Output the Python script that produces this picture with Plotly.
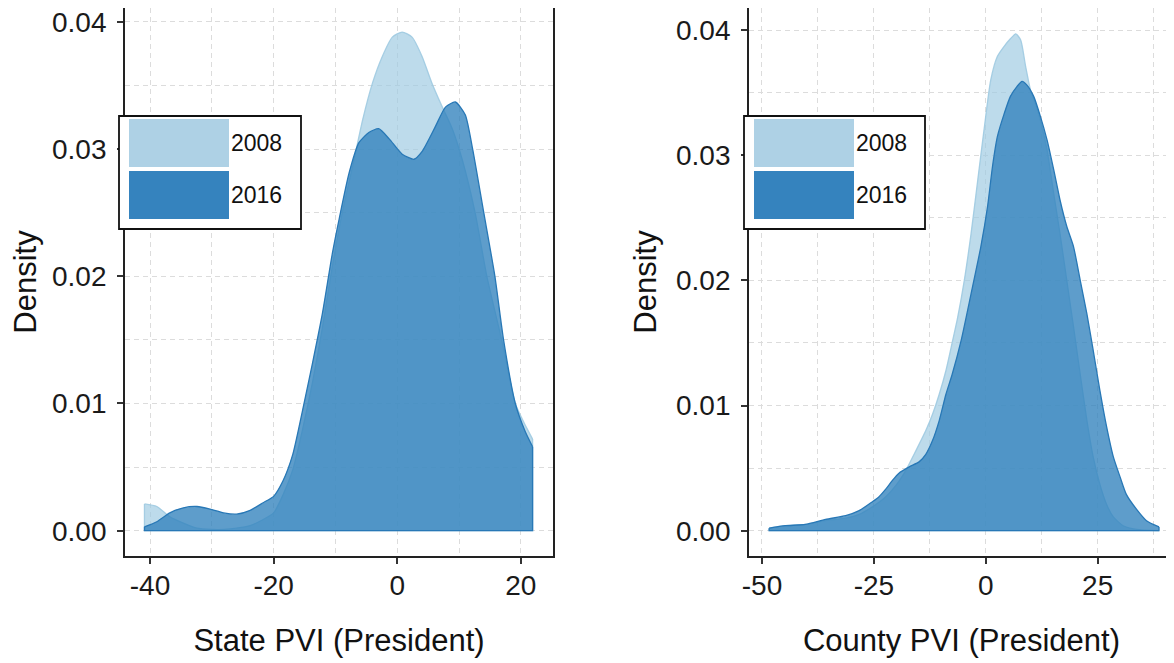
import plotly.graph_objects as go

# ---------------- data ----------------
state_x_2008 = [-40.9, -38.9, -36.8, -34.6, -32.4, -30.0, -28.0, -26.0, -23.8, -22.0, -20.0, -18.5,
                -16.9, -15.3, -13.7, -12.1, -10.5, -8.9, -7.2, -5.6, -4.0, -2.4, -0.8, 0.8, 2.4,
                4.0, 5.6, 7.2, 8.9, 10.5, 12.6, 14.5, 16.9, 19.1, 20.5, 21.9]
state_y_2008 = [0.0021, 0.0019, 0.0011, 0.0006, 0.0002, 0.0001, 0.0001, 0.0002, 0.0004, 0.0008, 0.0014, 0.0028,
                0.0048, 0.0080, 0.0117, 0.0160, 0.0208, 0.0250, 0.0287, 0.0323, 0.0352, 0.0373, 0.0388, 0.0392, 0.0388,
                0.0373, 0.0352, 0.0334, 0.0316, 0.0292, 0.0250, 0.0200, 0.0150, 0.0100, 0.0085, 0.0072]

state_x_2016 = [-40.9, -38.9, -36.8, -34.6, -32.4, -30.3, -28.1, -26.0, -23.8, -21.7, -20.0, -18.5,
                -16.9, -15.3, -13.7, -12.1, -10.5, -9.4, -7.8, -6.2, -4.6, -3.0, -1.3, 0.8, 2.7,
                4.0, 6.2, 7.8, 9.4, 11.0, 12.2, 14.0, 15.8, 17.2, 19.1, 20.7, 21.9]
state_y_2016 = [0.0003, 0.0007, 0.0014, 0.0018, 0.0019, 0.0017, 0.0014, 0.0013, 0.0016, 0.0022, 0.0027, 0.0039,
                0.0060, 0.0095, 0.0132, 0.0171, 0.0218, 0.0245, 0.0281, 0.0305, 0.0313, 0.0316, 0.0308, 0.0296, 0.0292,
                0.0298, 0.0318, 0.0333, 0.0337, 0.0327, 0.0300, 0.0250, 0.0200, 0.0150, 0.0100, 0.0078, 0.0066]

county_x_2008 = [-48.4, -44.8, -40.3, -35.8, -31.3, -28.3, -25.4, -22.4, -19.9, -17.9, -15.6, -13.4,
                 -11.9, -10.4, -8.9, -7.4, -6.3, -4.8, -3.3, -1.8, -0.4, 1.1, 2.6, 4.1, 5.5, 6.7,
                 7.8, 8.9, 10.0, 11.1, 12.2, 13.7, 15.2, 16.6, 18.1, 19.6, 21.1, 22.6, 24.0, 25.5,
                 27.0, 28.5, 30.7, 33.7, 38.7]
county_y_2008 = [0.0002, 0.0004, 0.0005, 0.0008, 0.0010, 0.0013, 0.0019, 0.0027, 0.0037, 0.0048, 0.0064, 0.0080,
                 0.0093, 0.0109, 0.0128, 0.0152, 0.0170, 0.0200, 0.0237, 0.0280, 0.0320, 0.0360, 0.0379, 0.0387, 0.0393, 0.0397,
                 0.0392, 0.0371, 0.0352, 0.0341, 0.0328, 0.0304, 0.0269, 0.0237, 0.0200, 0.0163, 0.0125, 0.0088, 0.0059, 0.0037,
                 0.0021, 0.0011, 0.0004, 0.0001, 0.0000]

county_x_2016 = [-48.4, -44.8, -40.3, -35.8, -31.3, -28.3, -25.4, -23.9, -22.4, -20.9, -19.4, -17.1,
                 -14.9, -13.4, -11.9, -10.4, -8.9, -7.5, -5.5, -3.3, -1.1, 0.4, 1.5, 2.6, 4.1, 5.5,
                 7.0, 8.1, 9.2, 10.7, 12.2, 13.7, 15.2, 16.6, 18.1, 19.6, 21.1, 22.6, 24.0, 25.5,
                 27.0, 28.5, 30.0, 31.4, 33.7, 35.9, 38.7]
county_y_2016 = [0.0002, 0.0004, 0.0005, 0.0009, 0.0012, 0.0016, 0.0023, 0.0027, 0.0033, 0.0040, 0.0046, 0.0051,
                 0.0055, 0.0061, 0.0072, 0.0088, 0.0109, 0.0125, 0.0152, 0.0189, 0.0227, 0.0259, 0.0291, 0.0315, 0.0333, 0.0347,
                 0.0355, 0.0359, 0.0356, 0.0347, 0.0331, 0.0312, 0.0288, 0.0264, 0.0243, 0.0227, 0.0200, 0.0173, 0.0144, 0.0112,
                 0.0083, 0.0059, 0.0043, 0.0029, 0.0017, 0.0008, 0.0003]

years = ["2008", "2016"]
x_titles = ["State PVI (President)", "County PVI (President)"]
y_title = "Density"
state_xticks = [-40, -20, 0, 20]
state_xlabels = ["-40", "-20", "0", "20"]
county_xticks = [-50, -25, 0, 25]
county_xlabels = ["-50", "-25", "0", "25"]
y_ticks = [0.00, 0.01, 0.02, 0.03, 0.04]
y_labels = ["0.00", "0.01", "0.02", "0.03", "0.04"]

# ---------------- styles ----------------
FONT = "Liberation Sans, Arial, sans-serif"
fill_col = {"2008": "rgba(158,202,225,0.68)", "2016": "rgba(49,130,189,0.78)"}
line_col = {"2008": "rgba(158,202,225,0.9)", "2016": "rgba(40,120,182,1)"}
key_col = {"2008": "#aed1e5", "2016": "#3583be"}

# the page body has an 8px default margin: the figure starts at (8, 8) in the window
OFF = 8
W, H = 1174 - OFF, 663 - OFF


def fx(x):  # window x pixel -> paper fraction
    return (x - OFF) / W


def fy(y):  # window y pixel -> paper fraction
    return 1 - (y - OFF) / H


fig = go.Figure()
panels = [
    ("x", "y", [(state_x_2008, state_y_2008), (state_x_2016, state_y_2016)]),
    ("x2", "y2", [(county_x_2008, county_y_2008), (county_x_2016, county_y_2016)]),
]
for xa, ya, series in panels:
    for yr, (xs, ys) in zip(years, series):
        # smooth density curve filled down to zero
        fig.add_trace(go.Scatter(
            x=xs, y=ys, xaxis=xa, yaxis=ya, mode="lines", fill="tozeroy",
            fillcolor=fill_col[yr],
            line=dict(color=line_col[yr], width=1.3, shape="spline", smoothing=0.6),
            name=yr, showlegend=False, hoverinfo="skip"))
        # side edges and baseline of the density outline
        fig.add_trace(go.Scatter(
            x=[xs[0], xs[0], xs[-1], xs[-1]], y=[ys[0], 0, 0, ys[-1]],
            xaxis=xa, yaxis=ya, mode="lines",
            line=dict(color=line_col[yr], width=1.3),
            showlegend=False, hoverinfo="skip"))

grid = dict(showgrid=True, gridcolor="#dcdcdc", gridwidth=1, griddash="5px,4px")
axis_common = dict(
    ticks="outside", ticklen=6, tickwidth=1.5, tickcolor="#333",
    showline=True, linecolor="#222", linewidth=1.8, zeroline=False, automargin=False,
    ticklabeloverflow="allow",
    tickfont=dict(family=FONT, size=28, color="#1a1a1a"),
    title_font=dict(family=FONT, size=31, color="#111"),
    **grid,
)

ydom = [fy(556), fy(8)]
fig.update_layout(
    width=W, height=H, margin=dict(l=0, r=0, t=0, b=0, autoexpand=False),
    paper_bgcolor="white", plot_bgcolor="white", showlegend=False,
    xaxis=dict(domain=[fx(125), fx(553)], range=[-44.05, 25.2],
               tickmode="array", tickvals=state_xticks, ticktext=state_xlabels,
               minor=dict(dtick=10, tick0=0, ticks="", **grid), ticklabelstandoff=-3,
               mirror=True, anchor="y", title=dict(text=x_titles[0], standoff=30), **axis_common),
    yaxis=dict(domain=ydom, range=[-0.00199, 0.04109],
               tickmode="array", tickvals=y_ticks, ticktext=y_labels,
               minor=dict(dtick=0.005, tick0=0, ticks="", **grid), ticklabelstandoff=5,
               mirror=True, anchor="x", title=dict(text=y_title, standoff=10), **axis_common),
    xaxis2=dict(domain=[fx(749), 1.0], range=[-52.9, 42.05],
                tickmode="array", tickvals=county_xticks, ticktext=county_xlabels,
                minor=dict(dtick=12.5, tick0=0, ticks="", **grid), ticklabelstandoff=-3,
                mirror=True, anchor="y2", title=dict(text=x_titles[1], standoff=30), **axis_common),
    yaxis2=dict(domain=ydom, range=[-0.00202, 0.04176],
                tickmode="array", tickvals=y_ticks, ticktext=y_labels,
                minor=dict(dtick=0.005, tick0=0, ticks="", **grid), ticklabelstandoff=5,
                mirror=False, anchor="x2", title=dict(text=y_title, standoff=10), **axis_common),
)

# ---------------- manual legends (large ggplot-style keys) ----------------
shapes = []
annotations = []
for box_l, box_r, key_l, key_r in [(119, 301, 129, 229), (744, 925, 754, 854)]:
    shapes.append(dict(type="rect", xref="paper", yref="paper", x0=fx(box_l), x1=fx(box_r),
                       y0=fy(229), y1=fy(116), line=dict(color="#111", width=1.8), fillcolor="white", layer="above"))
    for yr, (t, b) in zip(years, [(119, 167), (171, 219)]):
        shapes.append(dict(type="rect", xref="paper", yref="paper", x0=fx(key_l), x1=fx(key_r),
                           y0=fy(b), y1=fy(t), line=dict(width=0), fillcolor=key_col[yr], layer="above"))
        annotations.append(dict(text=yr, xref="paper", yref="paper", x=fx(key_r), y=fy((t + b) / 2),
                                xanchor="left", yanchor="middle", showarrow=False,
                                font=dict(family=FONT, size=23, color="#111")))
fig.update_layout(shapes=shapes, annotations=annotations)

fig.write_html("out.html")
